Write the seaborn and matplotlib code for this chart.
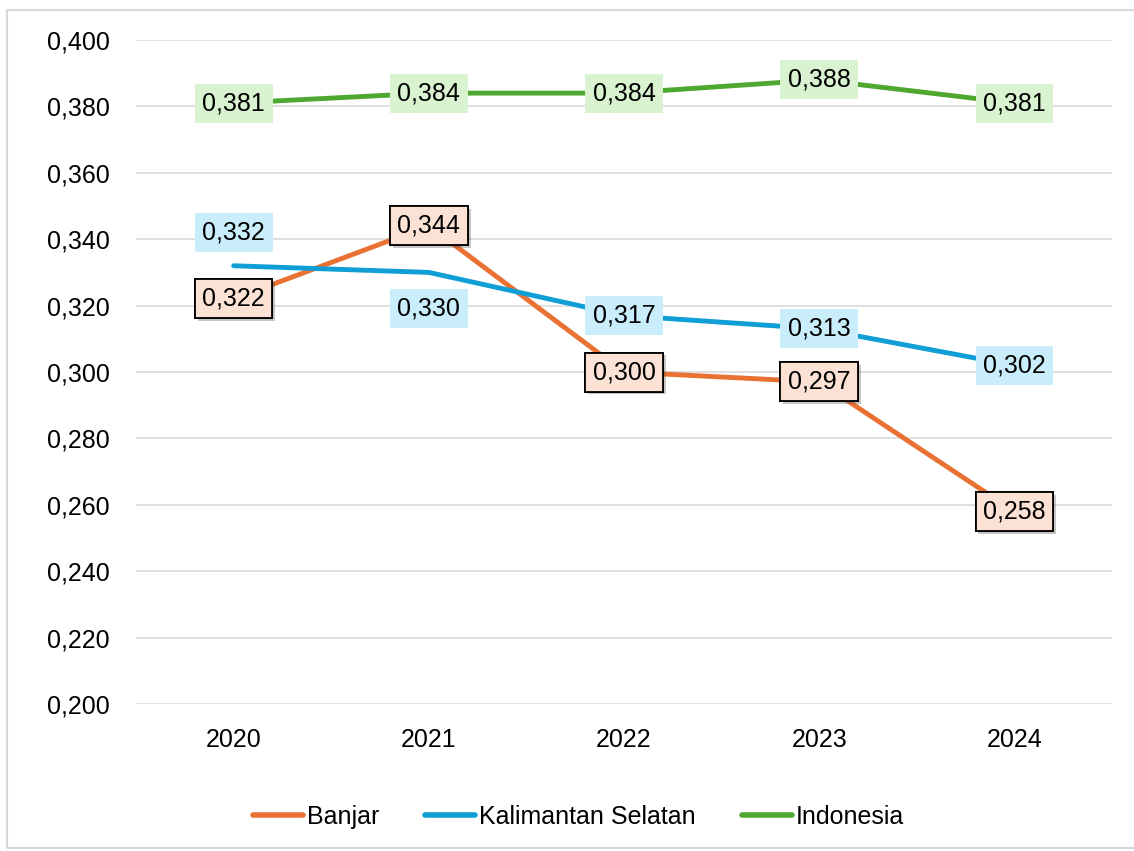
"""Line chart: Banjar vs Kalimantan Selatan vs Indonesia, 2020-2024."""
import matplotlib.pyplot as plt
import matplotlib.patheffects as pe
from matplotlib.patches import Rectangle
from matplotlib.ticker import FuncFormatter
import pandas as pd
import seaborn as sns

years = ["2020", "2021", "2022", "2023", "2024"]
banjar = [0.322, 0.344, 0.300, 0.297, 0.258]
kalsel = [0.332, 0.330, 0.317, 0.313, 0.302]
indonesia = [0.381, 0.384, 0.384, 0.388, 0.381]
series_names = ["Banjar", "Kalimantan Selatan", "Indonesia"]

line_colors = {"Banjar": "#E97132", "Kalimantan Selatan": "#0F9ED5", "Indonesia": "#4EA72E"}
box_colors = {"Banjar": "#FBE2D5", "Kalimantan Selatan": "#CAEDFB", "Indonesia": "#D9F2D0"}
# vertical offsets (points) for the Kalimantan Selatan labels
kalsel_offsets = [24, -26, 0, 0, 0]

sns.set_theme(style="white")
plt.rcParams["font.family"] = ["Liberation Sans", "DejaVu Sans"]
plt.rcParams.update({"text.color": "black", "xtick.color": "black", "ytick.color": "black"})

df = pd.DataFrame({
    "Year": years * 3,
    "Value": banjar + kalsel + indonesia,
    "Series": [s for s in series_names for _ in years],
})

fig = plt.figure(figsize=(11.34, 8.51), dpi=100)
ax = fig.add_axes([0.12, 0.1727, 0.8606, 0.7803])
sns.lineplot(data=df, x="Year", y="Value", hue="Series", palette=line_colors,
             linewidth=3.5, ax=ax, sort=False)

ax.set_ylim(0.2, 0.4)
ax.set_xlim(-0.5, 4.5)
ax.set_yticks([0.2 + 0.02 * i for i in range(11)])
ax.yaxis.set_major_formatter(FuncFormatter(lambda v, _: f"{v:.3f}".replace(".", ",")))
ax.grid(axis="y", color="#D9D9D9", linewidth=1.2)
ax.set_axisbelow(True)
for s in ax.spines.values():
    s.set_visible(False)
ax.tick_params(axis="y", length=0, labelsize=18, pad=19, labelcolor="black")
ax.tick_params(axis="x", length=0, labelsize=18, pad=17, labelcolor="black")
ax.set_xlabel("")
ax.set_ylabel("")


def add_labels(values, name, offsets=None, edge="none", shadow=False):
    for i, v in enumerate(values):
        dy = offsets[i] if offsets else 0
        t = ax.annotate(f"{v:.3f}".replace(".", ","), (i, v), xytext=(0, dy),
                        textcoords="offset points", ha="center", va="center",
                        fontsize=18, color="black", zorder=5,
                        bbox=dict(boxstyle="square,pad=0.3", fc=box_colors[name],
                                  ec=edge, lw=1.3))
        if shadow:
            t.get_bbox_patch().set_path_effects(
                [pe.withSimplePatchShadow(offset=(2, -2), alpha=0.3), pe.Normal()])


add_labels(indonesia, "Indonesia")
add_labels(kalsel, "Kalimantan Selatan", offsets=kalsel_offsets)
add_labels(banjar, "Banjar", edge="black", shadow=True)

handles, labels = ax.get_legend_handles_labels()
ax.get_legend().remove()
leg = fig.legend(handles, labels, loc="center", bbox_to_anchor=(0.51, 0.04), ncol=3,
                 frameon=False, fontsize=18, handlelength=2.0, handletextpad=0.15,
                 columnspacing=1.85)
for h in leg.get_lines():
    h.set_linewidth(4)
    h.set_solid_capstyle("round")
for t in leg.get_texts():
    t.set_color("black")

fig.patches.append(Rectangle((7 / 1134, 3 / 851), 1.2, 1 - 13 / 851,
                             transform=fig.transFigure, fill=False,
                             ec="#D9D9D9", lw=1.5))

fig.savefig("out.png", dpi=100)
